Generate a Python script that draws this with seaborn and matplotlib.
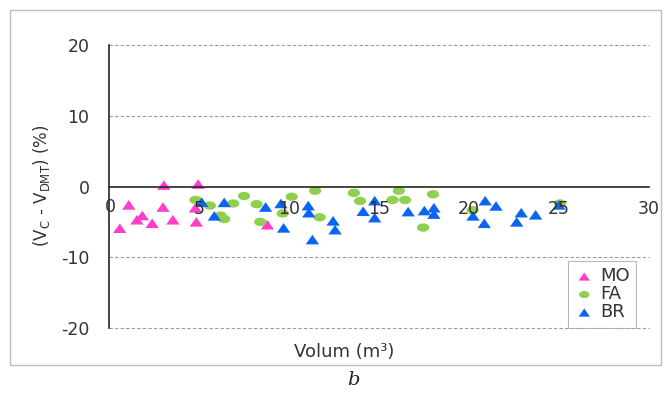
import numpy as np
import pandas as pd
import matplotlib
matplotlib.use("Agg")
import matplotlib.pyplot as plt
from matplotlib.patches import Rectangle
from matplotlib.path import Path
import seaborn as sns

# Volume (m3) and relative difference (%) per tree species
mo_x = [0.6, 1.1, 1.55, 1.85, 2.4, 3.0, 3.05, 3.55, 4.8, 4.85, 4.95, 8.8]
mo_y = [-5.9, -2.6, -4.7, -4.1, -5.2, -2.9, 0.2, -4.7, -3.0, -5.0, 0.35, -5.4]

fa_x = [4.8, 5.6, 6.2, 6.4, 6.9, 7.5, 8.2, 8.4, 9.65, 10.15, 11.45, 11.7,
        13.6, 13.95, 15.75, 16.1, 16.45, 17.45, 18.0, 20.2, 25.05]
fa_y = [-1.9, -2.7, -4.1, -4.6, -2.4, -1.35, -2.5, -5.0, -3.8, -1.45, -0.6, -4.35,
        -0.9, -2.05, -1.9, -0.6, -1.9, -5.8, -1.1, -3.35, -2.4]

br_x = [5.15, 5.85, 6.4, 8.7, 9.55, 9.7, 11.07, 11.1, 11.3, 12.45, 12.56, 14.12,
        14.76, 14.76, 16.62, 17.52, 18.05, 18.05, 20.22, 20.9, 20.85, 21.5,
        22.65, 22.9, 23.7, 25.0]
br_y = [-2.2, -4.15, -2.25, -2.9, -2.4, -5.85, -2.7, -3.7, -7.5, -4.85, -6.1, -3.5,
        -2.0, -4.4, -3.55, -3.4, -3.0, -3.9, -4.15, -2.0, -5.2, -2.75,
        -5.0, -3.7, -4.0, -2.6]

series = ["MO", "FA", "BR"]
colors = {"MO": "#FF3EC9", "FA": "#8FD14F", "BR": "#0A66F2"}

x_ticks = [5, 10, 15, 20, 25, 30]
y_ticks = [-20, -10, 0, 10, 20]

# wide, flat marker shapes
tri = Path([(-0.5, -0.36), (0.5, -0.36), (0.0, 0.36), (-0.5, -0.36)],
           [Path.MOVETO, Path.LINETO, Path.LINETO, Path.CLOSEPOLY])
_t = np.linspace(0, 2 * np.pi, 40)
ell = Path(np.column_stack([0.5 * np.cos(_t), 0.34 * np.sin(_t)]))
markers = {"MO": tri, "FA": ell, "BR": tri}
sizes = {"MO": 92, "FA": 78, "BR": 92}

df = pd.concat([
    pd.DataFrame({"Volum": mo_x, "Diff": mo_y, "Specie": "MO"}),
    pd.DataFrame({"Volum": fa_x, "Diff": fa_y, "Specie": "FA"}),
    pd.DataFrame({"Volum": br_x, "Diff": br_y, "Specie": "BR"}),
], ignore_index=True)

sns.set_style("white")
plt.rcParams["font.family"] = ["DejaVu Sans"]

fig = plt.figure(figsize=(6.65, 3.97), dpi=100)
fig.patch.set_facecolor("white")

# outer chart frame
fig.add_artist(Rectangle((10 / 665, 1 - 365 / 397), 651 / 665, 355 / 397,
                         transform=fig.transFigure, fill=False,
                         edgecolor="#BFBFBF", linewidth=1.0))

ax = fig.add_axes([109 / 665, 1 - 328 / 397, 540 / 665, 283 / 397])
ax.set_axisbelow(False)

for sp in series:
    sub = df[df["Specie"] == sp]
    sns.scatterplot(data=sub, x="Volum", y="Diff", ax=ax, color=colors[sp],
                    marker=markers[sp], s=sizes[sp],
                    edgecolor="none", linewidth=0, label=sp, zorder=2)

ax.set_xlim(0, 30)
ax.set_ylim(-20, 20)
ax.set_xticks(x_ticks)
ax.set_yticks(y_ticks)
ax.set_xlabel("")
ax.set_ylabel("")

# dashed horizontal gridlines
for v in [-20, -10, 10, 20]:
    ax.axhline(v, color="#9A9A9A", linestyle=(0, (3, 2)), linewidth=0.8,
               zorder=1, clip_on=False)

for s in ["top", "right"]:
    ax.spines[s].set_visible(False)
ax.spines["left"].set_color("#262626")
ax.spines["left"].set_linewidth(1.2)
ax.spines["bottom"].set_position(("data", 0))
ax.spines["bottom"].set_color("#262626")
ax.spines["bottom"].set_linewidth(1.2)

ax.tick_params(axis="y", direction="out", length=6, width=1.0, color="#262626",
               labelsize=12.5, labelcolor="#333333", pad=8)
ax.tick_params(axis="x", direction="out", length=5, width=1.0, color="#262626",
               labelsize=12.5, labelcolor="#333333", pad=5)
ax.set_xticklabels([str(t) for t in x_ticks])
ax.set_yticklabels([str(t) for t in y_ticks])

# origin label just below the axis crossing
ax.text(0.05, -1.6, "0", ha="center", va="top", fontsize=12.5, color="#333333",
        zorder=3)

fig.text(42 / 665, 1 - 186 / 397, r"$\mathregular{(V_C\ \text{-}\ V_{DMT})\ (\%)}$",
         rotation=90, ha="center", va="center", fontsize=12, color="#333333")
fig.text(344 / 665, 1 - 352 / 397, "Volum (m³)", ha="center", va="center",
         fontsize=13, color="#333333")
fig.text(353 / 665, 1 - 380 / 397, "b", ha="center", va="center",
         fontsize=14, style="italic", family="DejaVu Serif", color="#222222")

handles, labels = ax.get_legend_handles_labels()
leg = ax.legend(handles, labels, loc="upper left",
                bbox_to_anchor=(568 / 665, 1 - 261 / 397),
                bbox_transform=fig.transFigure, borderaxespad=0,
                frameon=True, fancybox=False, fontsize=13,
                handlelength=1.1, handletextpad=0.35, labelspacing=0.0,
                borderpad=0.35, markerscale=0.85)
leg.get_frame().set_edgecolor("#A6A6A6")
leg.get_frame().set_linewidth(0.8)
for t in leg.get_texts():
    t.set_color("#333333")

fig.savefig("out.png", dpi=100, facecolor="white")
